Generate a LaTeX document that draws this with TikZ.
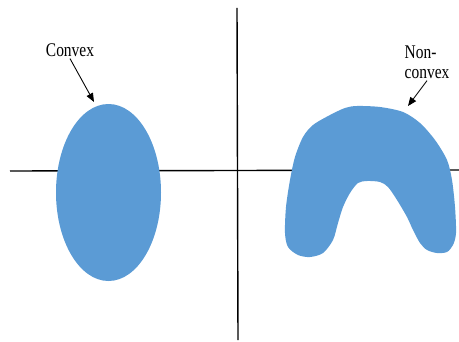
\documentclass[tikz,border=0pt]{standalone}
\usepackage{fontspec}
\setmainfont{Liberation Serif}
\usetikzlibrary{arrows.meta,shapes.geometric}
\definecolor{setblue}{HTML}{5B9BD5}
\tikzset{
	setlbl/.style={font=\fontsize{11}{11.5}\selectfont,xscale=0.8,transform shape,inner sep=1pt},
	pointer/.style={-{Triangle[length=5pt,width=4pt]},line width=0.5pt},
	axisline/.style={line width=0.8pt},
}
\begin{document}
\begin{tikzpicture}[x=0.02cm,y=-0.02cm]
			
			\useasboundingbox (0,0) rectangle (459,341);
			% axes
			\coordinate (xl) at (10,171);
			\coordinate (xr) at (459,170);
			\coordinate (yt) at (237,8);
			\coordinate (yb) at (238,340);
			\draw[axisline] (xl)--(xr);
			\draw[axisline] (yt)--(yb);
			% convex set
			\node[ellipse,fill=setblue,inner sep=0pt,minimum width=105*0.02cm,minimum height=177*0.02cm] (convexset) at (108.5,192.5) {};
			\node[setlbl] (convexlbl) at (70,50) {Convex};
			\coordinate (convextip) at (94,102);
			\draw[pointer] (convexlbl.south)--(convextip);
			% non-convex set
			\fill[setblue] plot[smooth cycle,tension=0.5] coordinates {
				(357,106) (380,107) (403,112) (420,123) (435,140) (447,160) (452,180)
				(455,207) (456,233) (453,245) (447,252) (437,253) (427,250) (420,243)
				(413,230) (407,217) (397,200) (388,187) (380,182) (367,181) (358,183)
				(350,193) (343,207) (338,223) (333,240) (323,253) (310,257) (298,255)
				(288,247) (285,233) (286,207) (290,180) (295,157) (303,137) (313,125)
				(330,115) (345,108)};
			\node[setlbl,align=left,anchor=west] (nonconvexlbl) at (403,62) {Non-\\convex};
			\coordinate (nonconvextip) at (408,106);
			\draw[pointer] (nonconvexlbl.south)--(nonconvextip);
			
		\end{tikzpicture}
\end{document}
